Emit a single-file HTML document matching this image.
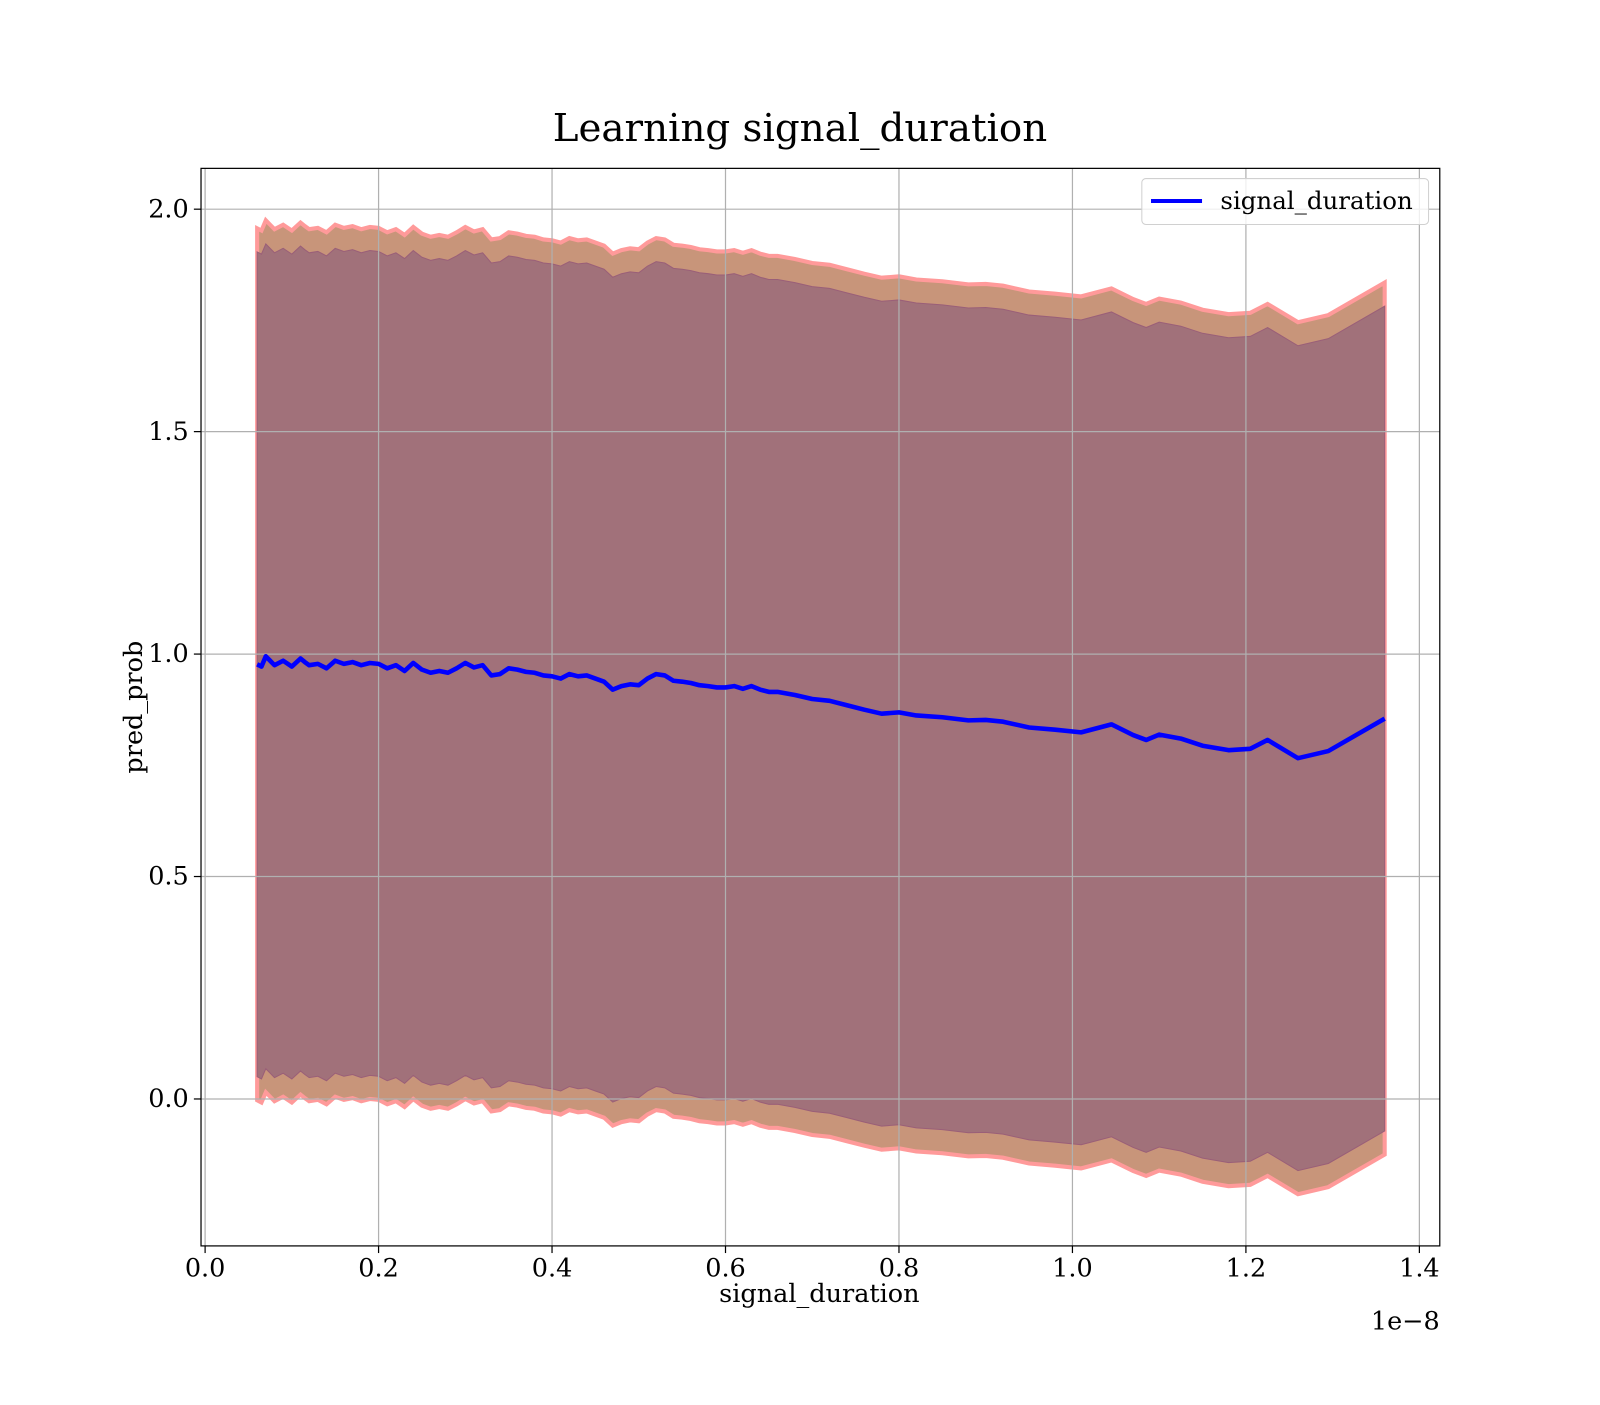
<!DOCTYPE html>
<html><head><meta charset="utf-8"><style>
body{margin:0;background:#fff}
svg text{font-family:"DejaVu Serif","Liberation Serif",serif;fill:#000}
</style></head><body>
<svg width="1600" height="1400" id="s">
<g transform="scale(1.0204)">
<text x="784" y="138" font-size="38" text-anchor="middle">Learning signal_duration</text>
<g id="plot"></g>
<text x="803" y="1276" font-size="25" text-anchor="middle">signal_duration</text>
<text x="1411" y="1303" font-size="25" text-anchor="end">1e−8</text>
<text transform="translate(139,693) rotate(-90)" font-size="25" text-anchor="middle">pred_prob</text>
</g>
</svg>
<script>
const xs=[0.06,0.065,0.07,0.075,0.08,0.09,0.10,0.11,0.115,0.12,0.13,0.14,0.15,0.16,0.17,0.18,0.19,0.20,0.21,0.22,0.23,0.24,0.25,0.26,0.27,0.28,0.29,0.30,0.31,0.32,0.33,0.34,0.35,0.36,0.37,0.38,0.39,0.40,0.41,0.42,0.43,0.44,0.45,0.46,0.47,0.48,0.49,0.50,0.51,0.52,0.53,0.54,0.55,0.56,0.57,0.58,0.59,0.60,0.61,0.62,0.63,0.64,0.65,0.66,0.68,0.70,0.72,0.74,0.76,0.78,0.80,0.82,0.85,0.88,0.90,0.92,0.95,0.98,1.01,1.045,1.07,1.085,1.10,1.125,1.15,1.18,1.205,1.225,1.26,1.295,1.36];
const means=[0.977,0.972,0.995,0.985,0.975,0.985,0.972,0.99,0.982,0.975,0.978,0.968,0.985,0.978,0.982,0.975,0.98,0.978,0.968,0.975,0.962,0.98,0.965,0.958,0.962,0.958,0.968,0.98,0.97,0.975,0.952,0.955,0.968,0.965,0.96,0.958,0.952,0.95,0.945,0.955,0.95,0.952,0.945,0.938,0.92,0.928,0.932,0.93,0.945,0.955,0.952,0.94,0.938,0.935,0.93,0.928,0.925,0.925,0.928,0.922,0.928,0.92,0.915,0.915,0.908,0.899,0.895,0.885,0.875,0.866,0.869,0.862,0.858,0.851,0.852,0.848,0.835,0.83,0.824,0.842,0.818,0.807,0.819,0.81,0.794,0.784,0.787,0.807,0.766,0.782,0.855];
const innerHalf=[0.927];
const outerHalf=[0.98];
const xTicks=[0.0,0.2,0.4,0.6,0.8,1.0,1.2,1.4];
const xTickLabels=["0.0","0.2","0.4","0.6","0.8","1.0","1.2","1.4"];
const yTicks=[0.0,0.5,1.0,1.5,2.0];
const yTickLabels=["0.0","0.5","1.0","1.5","2.0"];
const L=197,R=1411,T=165,B=1221;
const X=v=>201+v/0.2*170, Y=v=>1077-v*436;
const NS="http://www.w3.org/2000/svg";
const g=document.getElementById('plot');
function mk(t,a){const e=document.createElementNS(NS,t);for(const k in a)e.setAttribute(k,a[k]);g.appendChild(e);return e;}
function band(h){let up=xs.map((x,i)=>X(x)+','+Y(means[i]+h)),lo=xs.map((x,i)=>X(x)+','+Y(means[i]-h)).reverse();return 'M'+up.join('L')+'L'+lo.join('L')+'Z';}
let e;
e=mk('path',{d:band(outerHalf[0]),fill:'#c8957a',stroke:'#ff9a9a','stroke-width':4});


e=mk('path',{d:band(innerHalf[0]),fill:'#a1717a',stroke:'#9a5f78','stroke-width':1});


xTicks.forEach((v,i)=>{
 e=mk('line',{x1:X(v),x2:X(v),y1:T,y2:B,stroke:'#b0b0b0','stroke-width':1.2});
 
 
 mk('line',{x1:X(v),x2:X(v),y1:B,y2:B+7,stroke:'#000','stroke-width':1.2});
 e=mk('text',{x:X(v),y:B+30,'font-size':25,'text-anchor':'middle'});e.textContent=xTickLabels[i];
 
 
});
yTicks.forEach((v,i)=>{
 e=mk('line',{x1:L,x2:R,y1:Y(v),y2:Y(v),stroke:'#b0b0b0','stroke-width':1.2});
 
 
 mk('line',{x1:L-7,x2:L,y1:Y(v),y2:Y(v),stroke:'#000','stroke-width':1.2});
 e=mk('text',{x:L-12,y:Y(v)+8,'font-size':25,'text-anchor':'end'});e.textContent=yTickLabels[i];
 
 
});
e=mk('polyline',{points:xs.map((x,i)=>X(x)+','+Y(means[i])).join(' '),fill:'none',stroke:'#0000ff','stroke-width':4.5,'stroke-linejoin':'round'});


e=mk('rect',{x:L,y:T,width:R-L,height:B-T,fill:'none',stroke:'#000','stroke-width':1.2});


e=mk('rect',{x:1119,y:175,width:281,height:45,rx:4,fill:'#fff','fill-opacity':0.8,stroke:'#d0d0d0'});


mk('line',{x1:1128,x2:1178,y1:197,y2:197,stroke:'#0000ff','stroke-width':4});
e=mk('text',{x:1196,y:205,'font-size':24});e.textContent='signal_duration';


</script>
</body></html>
